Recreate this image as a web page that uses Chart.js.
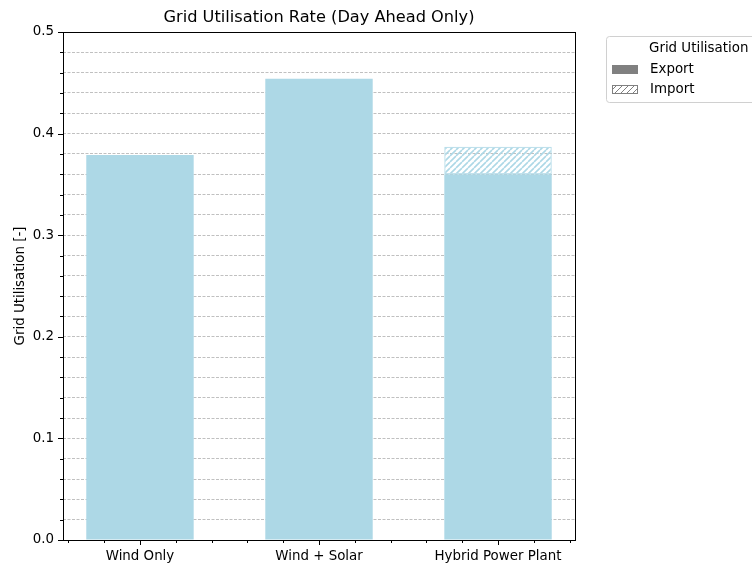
<!DOCTYPE html>
<html>
<head>
<meta charset="utf-8">
<script src="https://cdn.jsdelivr.net/npm/chart.js@4/dist/chart.umd.min.js"></script>
<style>
  html, body { margin: 0; padding: 0; background: #fff; }
  #wrap { width: 752px; height: 565px; }
</style>
</head>
<body>
<div id="wrap"><canvas id="c" width="752" height="565"></canvas></div>
<script>
// Scenario names and grid utilisation shares
const categories = ['Wind Only', 'Wind + Solar', 'Hybrid Power Plant'];
const exportShare = [0.379, 0.454, 0.360];
const importShare = [0, 0, 0.027];
const yTickValues = [0, 0.1, 0.2, 0.3, 0.4, 0.5];

const chartTitle = 'Grid Utilisation Rate (Day Ahead Only)';
const yAxisTitle = 'Grid Utilisation [-]';
const legendTitle = 'Grid Utilisation';
const legendLabels = ['Export', 'Import'];

const FONT = '"DejaVu Sans", sans-serif';
const TXT = 13.4;
const BAR_BLUE = '#add8e6';

function hatchPattern(color, bg, width) {
  const s = 6;
  const p = document.createElement('canvas');
  p.width = s; p.height = s;
  const g = p.getContext('2d');
  if (bg) { g.fillStyle = bg; g.fillRect(0, 0, s, s); }
  g.strokeStyle = color;
  g.lineWidth = width;
  g.beginPath();
  for (let k = -1; k <= 1; k++) {
    g.moveTo(k * s, s);
    g.lineTo(k * s + s, 0);
  }
  g.stroke();
  return g.createPattern(p, 'repeat');
}

const ctx = document.getElementById('c').getContext('2d');
const blueHatch = hatchPattern(BAR_BLUE, null, 1.6);
const greyHatch = hatchPattern('#808080', '#ffffff', 1);

// Axis frame, tick marks, title and legend
const decorations = {
  id: 'decorations',
  afterDraw(chart) {
    const { ctx, chartArea: a, scales } = chart;
    const x = scales.x, y = scales.y;
    ctx.save();
    // frame
    ctx.strokeStyle = '#000';
    ctx.lineWidth = 1;
    ctx.strokeRect(Math.round(a.left) + 0.5, Math.round(a.top) + 0.5,
                   Math.round(a.right - a.left), Math.round(a.bottom - a.top));
    // y ticks: major every 0.1, minor every 0.02
    ctx.beginPath();
    for (let i = 0; i <= 25; i++) {
      const v = i * 0.02;
      const py = Math.round(y.getPixelForValue(v)) + 0.5;
      const len = (i % 5 === 0) ? 5 : 3;
      ctx.moveTo(a.left, py);
      ctx.lineTo(a.left - len, py);
    }
    // x ticks: major at categories, minor every 0.2
    for (let i = -2; i <= 12; i++) {
      const v = i * 0.2;
      if (v < x.min || v > x.max) continue;
      const px = Math.round(x.getPixelForValue(v)) + 0.5;
      const len = (i % 5 === 0) ? 5 : 3;
      ctx.moveTo(px, a.bottom);
      ctx.lineTo(px, a.bottom + len);
    }
    ctx.stroke();

    // title
    ctx.fillStyle = '#000';
    ctx.font = '16.2px ' + FONT;
    ctx.textAlign = 'center';
    ctx.textBaseline = 'middle';
    ctx.fillText(chartTitle, (a.left + a.right) / 2, 18);

    // legend
    const lx = 606, ly = 36, lw = 160, lh = 66;
    ctx.fillStyle = 'rgba(255,255,255,0.8)';
    ctx.strokeStyle = '#d0d0d0';
    ctx.lineWidth = 1;
    ctx.beginPath();
    ctx.roundRect(lx + 0.5, ly + 0.5, lw, lh, 3);
    ctx.fill();
    ctx.stroke();
    ctx.fillStyle = '#000';
    ctx.font = TXT + 'px ' + FONT;
    ctx.textAlign = 'left';
    ctx.fillText(legendTitle, 649, 49);
    ctx.fillStyle = '#808080';
    ctx.fillRect(612, 65, 26, 9);
    ctx.fillStyle = greyHatch;
    ctx.fillRect(612, 85, 26, 9);
    ctx.strokeStyle = '#808080';
    ctx.strokeRect(612.5, 85.5, 25, 8);
    ctx.fillStyle = '#000';
    ctx.fillText(legendLabels[0], 650, 70);
    ctx.fillText(legendLabels[1], 650, 90);
    ctx.restore();
  }
};

new Chart(ctx, {
  type: 'bar',
  data: {
    datasets: [
      {
        label: legendLabels[0],
        data: exportShare.map((v, i) => ({ x: i, y: v })),
        backgroundColor: BAR_BLUE,
        borderWidth: 0
      },
      {
        label: legendLabels[1],
        data: importShare.map((v, i) => ({ x: i, y: v })),
        backgroundColor: blueHatch,
        borderColor: BAR_BLUE,
        borderWidth: 1,
        borderSkipped: false
      }
    ]
  },
  options: {
    responsive: false,
    animation: false,
    devicePixelRatio: 1,
    layout: { padding: { top: 32, right: 177, left: 0, bottom: 0 } },
    categoryPercentage: 1.0,
    barPercentage: 0.6,
    plugins: {
      legend: { display: false },
      title: { display: false },
      tooltip: { enabled: false }
    },
    scales: {
      x: {
        type: 'linear',
        stacked: true,
        offset: false,
        bounds: 'data',
        min: -0.43,
        max: 2.43,
        afterBuildTicks(scale) {
          scale.ticks = categories.map((_, i) => ({ value: i }));
        },
        afterFit(scale) { scale.height = 25; },
        ticks: {
          autoSkip: false,
          maxRotation: 0,
          padding: 8,
          color: '#000',
          font: { family: FONT, size: TXT },
          callback: (v) => categories[Math.round(v)] ?? ''
        },
        grid: { display: false, drawTicks: false },
        border: { display: false }
      },
      y: {
        stacked: true,
        min: 0,
        max: 0.5,
        afterBuildTicks(scale) {
          const t = [];
          for (let i = 0; i <= 25; i++) t.push({ value: +(i * 0.02).toFixed(2) });
          scale.ticks = t;
        },
        afterFit(scale) { scale.width = 63; },
        ticks: {
          autoSkip: false,
          padding: 9,
          color: '#000',
          font: { family: FONT, size: TXT },
          callback: (v) => {
            const hit = yTickValues.find(t => Math.abs(t - v) < 1e-9);
            return hit === undefined ? '' : hit.toFixed(1);
          }
        },
        grid: {
          color: '#b0b0b0',
          lineWidth: 0.8,
          drawTicks: false
        },
        border: { display: false, dash: [3, 1.5] },
        title: {
          display: true,
          text: yAxisTitle,
          color: '#000',
          font: { family: FONT, size: TXT },
          padding: { top: 12, bottom: 0 }
        }
      }
    }
  },
  plugins: [decorations]
});
</script>
</body>
</html>
